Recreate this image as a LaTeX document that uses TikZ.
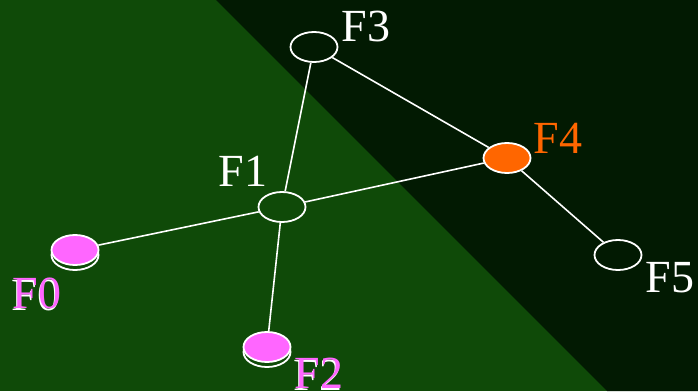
\documentclass[tikz,border=0pt]{standalone}
\usepackage{fontspec}
\setmainfont{Liberation Serif}
\usetikzlibrary{shapes.geometric}
\definecolor{bggreen}{RGB}{15,74,8}
\definecolor{bgdark}{RGB}{2,26,2}
\definecolor{pinkf}{RGB}{255,102,255}
\definecolor{orangef}{RGB}{255,102,0}
\tikzset{
  fnode/.style={ellipse, draw=white, line width=1.8pt, minimum width=47pt, minimum height=30pt, inner sep=0pt},
  flabel/.style={font=\fontsize{46}{46}\selectfont, text=white, inner sep=0pt},
  link/.style={draw=white, line width=1.6pt},
}
\begin{document}
\begin{tikzpicture}[x=1pt,y=-1pt]
\useasboundingbox (0,0) rectangle (698,391);
\fill[bggreen] (0,0) rectangle (698,391);
\fill[bgdark] (216,0) -- (698,0) -- (698,391) -- (607,391) -- cycle;
% nodes
\node[fnode] (f3) at (314,47) {};
\node[fnode] (f1) at (282,207) {};
\node[fnode, fill=orangef] (f4) at (507,158) {};
\node[fnode] (f5) at (618,255) {};
\node[fnode, fill=bggreen] (f0b) at (75,255) {};
\node[fnode, fill=pinkf] (f0) at (75,250) {};
\node[fnode, fill=bggreen] (f2b) at (267,352) {};
\node[fnode, fill=pinkf] (f2) at (267,347) {};
% links
\draw[link] (f1) -- (f3);
\draw[link] (f1) -- (f0);
\draw[link] (f1) -- (f2);
\draw[link] (f1) -- (f4);
\draw[link] (f3) -- (f4);
\draw[link] (f4) -- (f5);
% labels
\node[flabel] (l3) at (366,26) {F3};
\node[flabel] (l1) at (243,171) {F1};
\node[flabel, text=orangef] (l4) at (558,138) {F4};
\node[flabel] (l5) at (670,278) {F5};
\node[flabel] (l0s) at (36,295) {F0};
\node[flabel, text=pinkf] (l0) at (37,293) {F0};
\node[flabel] (l2s) at (318,375) {F2};
\node[flabel, text=pinkf] (l2) at (319,373) {F2};
\end{tikzpicture}
\end{document}
